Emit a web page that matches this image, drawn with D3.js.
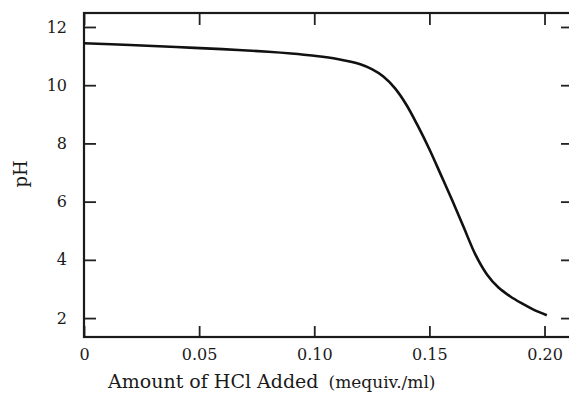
<!DOCTYPE html>
<html>
<head>
<meta charset="utf-8">
<script src="https://cdn.jsdelivr.net/npm/d3@7"></script>
<style>
  body { margin: 0; background: #fff; }
</style>
</head>
<body>
<div id="chart"></div>
<script>
// titration curve
var hclAdded = [0, 0.02, 0.04, 0.06, 0.08, 0.09, 0.10, 0.11, 0.12, 0.125, 0.13, 0.135, 0.14,
                0.145, 0.15, 0.155, 0.16, 0.165, 0.17, 0.175, 0.18, 0.185, 0.19, 0.195, 0.201]
var phValues = [11.44, 11.38, 11.31, 11.24, 11.15, 11.09, 11.01, 10.9, 10.72, 10.55, 10.3, 9.9, 9.33,
                8.6, 7.8, 6.92, 6.03, 5.1, 4.18, 3.5, 3.05, 2.75, 2.51, 2.3, 2.1]
var xTicks = [0, 0.05, 0.10, 0.15, 0.20]
var yTicks = [2, 4, 6, 8, 10, 12]

var width = 569, height = 396
var margin = {top: 13, right: -2, bottom: 59, left: 84}
var serif = "'DejaVu Serif', 'Liberation Serif', serif"

var svg = d3.select("#chart").append("svg")
    .attr("width", width)
    .attr("height", height)

var x = d3.scaleLinear()
    .domain([0, 0.2115])
    .range([margin.left, width - margin.right])

var y = d3.scaleLinear()
    .domain([1.35, 12.48])
    .range([height - margin.bottom, margin.top])

var data = hclAdded.map(function(d, i) { return {x: d, y: phValues[i]} })

var xFmt = function(d) { return d === 0 ? "0" : d3.format(".2f")(d) }

// bottom axis, ticks pointing in
var gx = svg.append("g")
    .attr("transform", "translate(0," + y.range()[0] + ")")
    .call(d3.axisBottom(x).tickValues(xTicks).tickSize(-11).tickPadding(12).tickFormat(xFmt))
gx.select(".domain").remove()

// top axis ticks only
var gt = svg.append("g")
    .attr("transform", "translate(0," + y.range()[1] + ")")
    .call(d3.axisTop(x).tickValues(xTicks).tickSize(-12).tickFormat(""))
gt.select(".domain").remove()

// left axis
var gy = svg.append("g")
    .attr("transform", "translate(" + x.range()[0] + ",0)")
    .call(d3.axisLeft(y).tickValues(yTicks).tickSize(-12).tickPadding(17))
gy.select(".domain").remove()

// right axis ticks only
var gr = svg.append("g")
    .attr("transform", "translate(" + x.range()[1] + ",0)")
    .call(d3.axisRight(y).tickValues(yTicks).tickSize(-10).tickFormat(""))
gr.select(".domain").remove()

svg.selectAll("g").attr("font-family", serif).attr("font-size", 16)
svg.selectAll(".tick text").attr("fill", "#1a1a1a")
svg.selectAll(".tick line").attr("stroke", "#222").attr("stroke-width", 1.8)

// frame
svg.append("rect")
    .attr("x", x.range()[0])
    .attr("y", y.range()[1])
    .attr("width", x.range()[1] - x.range()[0])
    .attr("height", y.range()[0] - y.range()[1])
    .attr("fill", "none")
    .attr("stroke", "#1a1a1a")
    .attr("stroke-width", 2.2)

var line = d3.line()
    .x(function(d) { return x(d.x) })
    .y(function(d) { return y(d.y) })
    .curve(d3.curveCatmullRom.alpha(0.5))

svg.append("path")
    .datum(data)
    .attr("fill", "none")
    .attr("stroke", "#111")
    .attr("stroke-width", 2.6)
    .attr("d", line)

// axis titles
var title = svg.append("text")
    .attr("x", 108)
    .attr("y", 388)
    .attr("font-family", serif)
    .attr("font-size", 19)
    .attr("fill", "#1a1a1a")
title.append("tspan").text("Amount of HCl Added")
title.append("tspan").attr("dx", 10).attr("font-size", 17).text("(mequiv./ml)")

svg.append("text")
    .attr("transform", "translate(27,174) rotate(-90)")
    .attr("text-anchor", "middle")
    .attr("font-family", serif)
    .attr("font-size", 18)
    .attr("fill", "#1a1a1a")
    .text("pH")
</script>
</body>
</html>
